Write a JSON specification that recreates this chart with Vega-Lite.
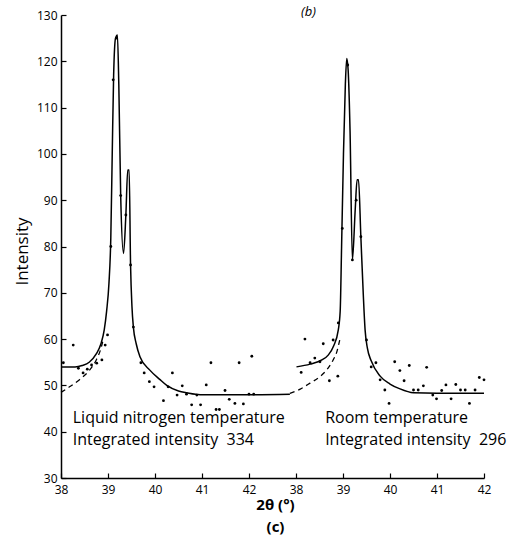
{
  "$schema": "https://vega.github.io/schema/vega-lite/v6.json",
  "width": 423,
  "height": 463,
  "autosize": {"type": "none"},
  "padding": {"left": 61, "top": 15, "right": 44, "bottom": 62},
  "background": "white",
  "title": {"text": "(b)", "dx": 36, "dy": 10, "offset": 0, "fontSize": 13, "fontStyle": "italic", "fontWeight": "normal", "font": "Open Sans", "color": "black"},
  "config": {
    "view": {"stroke": null},
    "axis": {"domainColor": "black", "domainWidth": 1.5, "tickColor": "black", "tickWidth": 1.2, "labelColor": "black", "titleColor": "black", "labelFont": "Open Sans", "titleFont": "Open Sans", "grid": false}
  },
  "datasets": {
    "curves": [
      {"x": 38, "y": 54, "curve": "ln_fit"}, {"x": 38.3, "y": 54, "curve": "ln_fit"}, {"x": 38.45, "y": 54.3, "curve": "ln_fit"}, {"x": 38.6, "y": 55, "curve": "ln_fit"}, {"x": 38.75, "y": 56.8, "curve": "ln_fit"}, {"x": 38.85, "y": 59, "curve": "ln_fit"}, {"x": 38.92, "y": 62, "curve": "ln_fit"}, {"x": 38.97, "y": 66, "curve": "ln_fit"}, {"x": 39.02, "y": 72, "curve": "ln_fit"}, {"x": 39.06, "y": 82, "curve": "ln_fit"}, {"x": 39.09, "y": 100, "curve": "ln_fit"}, {"x": 39.12, "y": 117, "curve": "ln_fit"}, {"x": 39.16, "y": 125, "curve": "ln_fit"}, {"x": 39.2, "y": 125.7, "curve": "ln_fit"}, {"x": 39.23, "y": 115, "curve": "ln_fit"}, {"x": 39.27, "y": 91, "curve": "ln_fit"}, {"x": 39.33, "y": 78.5, "curve": "ln_fit"}, {"x": 39.38, "y": 86.8, "curve": "ln_fit"}, {"x": 39.42, "y": 96.5, "curve": "ln_fit"}, {"x": 39.45, "y": 96.5, "curve": "ln_fit"}, {"x": 39.48, "y": 76, "curve": "ln_fit"}, {"x": 39.51, "y": 67, "curve": "ln_fit"}, {"x": 39.54, "y": 62.6, "curve": "ln_fit"}, {"x": 39.6, "y": 59, "curve": "ln_fit"}, {"x": 39.68, "y": 56.2, "curve": "ln_fit"}, {"x": 39.89, "y": 53.3, "curve": "ln_fit"}, {"x": 40.1, "y": 51.3, "curve": "ln_fit"}, {"x": 40.25, "y": 50, "curve": "ln_fit"}, {"x": 40.5, "y": 48.8, "curve": "ln_fit"}, {"x": 40.68, "y": 48.4, "curve": "ln_fit"}, {"x": 40.96, "y": 48, "curve": "ln_fit"}, {"x": 42, "y": 48, "curve": "ln_fit"}, {"x": 42.87, "y": 48.1, "curve": "ln_fit"},
      {"x": 38, "y": 48.5, "curve": "ln_bg"}, {"x": 38.2, "y": 49.8, "curve": "ln_bg"}, {"x": 38.4, "y": 51.3, "curve": "ln_bg"}, {"x": 38.6, "y": 53.2, "curve": "ln_bg"}, {"x": 38.75, "y": 55.5, "curve": "ln_bg"}, {"x": 38.85, "y": 58, "curve": "ln_bg"}, {"x": 38.9, "y": 60, "curve": "ln_bg"},
      {"x": 43.01, "y": 54, "curve": "rt_fit"}, {"x": 43.3, "y": 54.6, "curve": "rt_fit"}, {"x": 43.55, "y": 55.5, "curve": "rt_fit"}, {"x": 43.69, "y": 56.6, "curve": "rt_fit"}, {"x": 43.8, "y": 58.5, "curve": "rt_fit"}, {"x": 43.9, "y": 62, "curve": "rt_fit"}, {"x": 43.94, "y": 66, "curve": "rt_fit"}, {"x": 43.97, "y": 80, "curve": "rt_fit"}, {"x": 44.01, "y": 100, "curve": "rt_fit"}, {"x": 44.05, "y": 115, "curve": "rt_fit"}, {"x": 44.08, "y": 120.6, "curve": "rt_fit"}, {"x": 44.11, "y": 118, "curve": "rt_fit"}, {"x": 44.15, "y": 105, "curve": "rt_fit"}, {"x": 44.2, "y": 77.1, "curve": "rt_fit"}, {"x": 44.26, "y": 88, "curve": "rt_fit"}, {"x": 44.3, "y": 94.4, "curve": "rt_fit"}, {"x": 44.33, "y": 94.4, "curve": "rt_fit"}, {"x": 44.38, "y": 82.1, "curve": "rt_fit"}, {"x": 44.43, "y": 70, "curve": "rt_fit"}, {"x": 44.47, "y": 62, "curve": "rt_fit"}, {"x": 44.52, "y": 58, "curve": "rt_fit"}, {"x": 44.6, "y": 55.3, "curve": "rt_fit"}, {"x": 44.79, "y": 52, "curve": "rt_fit"}, {"x": 45, "y": 50.3, "curve": "rt_fit"}, {"x": 45.2, "y": 49.3, "curve": "rt_fit"}, {"x": 45.5, "y": 48.4, "curve": "rt_fit"}, {"x": 46, "y": 48.3, "curve": "rt_fit"}, {"x": 47, "y": 48.3, "curve": "rt_fit"},
      {"x": 42.87, "y": 48.3, "curve": "rt_bg"}, {"x": 43.09, "y": 49.2, "curve": "rt_bg"}, {"x": 43.3, "y": 50.5, "curve": "rt_bg"}, {"x": 43.51, "y": 51.9, "curve": "rt_bg"}, {"x": 43.65, "y": 53.3, "curve": "rt_bg"}, {"x": 43.79, "y": 55.5, "curve": "rt_bg"}, {"x": 43.87, "y": 57.3, "curve": "rt_bg"}, {"x": 43.93, "y": 59.8, "curve": "rt_bg"}
    ],
    "points": [
      {"x": 38.05, "y": 54.9}, {"x": 38.26, "y": 58.7}, {"x": 38.37, "y": 53.7}, {"x": 38.47, "y": 52.7}, {"x": 38.56, "y": 53.5}, {"x": 38.65, "y": 54.4}, {"x": 38.76, "y": 54.8}, {"x": 38.87, "y": 55.5}, {"x": 38.94, "y": 58.7}, {"x": 38.99, "y": 60.9},
      {"x": 39.06, "y": 80}, {"x": 39.11, "y": 116}, {"x": 39.18, "y": 125}, {"x": 39.27, "y": 91}, {"x": 39.38, "y": 86.8}, {"x": 39.48, "y": 76}, {"x": 39.54, "y": 62.6},
      {"x": 39.7, "y": 54.9}, {"x": 39.77, "y": 52.7}, {"x": 39.88, "y": 50.8}, {"x": 39.98, "y": 49.7}, {"x": 40.18, "y": 46.7}, {"x": 40.28, "y": 49.7}, {"x": 40.37, "y": 52.7}, {"x": 40.47, "y": 47.9}, {"x": 40.58, "y": 49.9}, {"x": 40.67, "y": 48.1}, {"x": 40.78, "y": 45.8}, {"x": 40.89, "y": 47.9}, {"x": 40.97, "y": 45.8}, {"x": 41.09, "y": 50.1}, {"x": 41.19, "y": 54.9}, {"x": 41.3, "y": 44.8}, {"x": 41.37, "y": 44.8}, {"x": 41.49, "y": 48.9}, {"x": 41.58, "y": 47}, {"x": 41.7, "y": 46.1}, {"x": 41.79, "y": 54.9}, {"x": 41.88, "y": 46}, {"x": 42, "y": 48.1}, {"x": 42.06, "y": 56.3}, {"x": 42.1, "y": 48.1},
      {"x": 43.11, "y": 52.8}, {"x": 43.19, "y": 60}, {"x": 43.3, "y": 54.9}, {"x": 43.4, "y": 55.9}, {"x": 43.51, "y": 55.1}, {"x": 43.58, "y": 59}, {"x": 43.71, "y": 51}, {"x": 43.79, "y": 59.8}, {"x": 43.89, "y": 52}, {"x": 43.9, "y": 63.5},
      {"x": 43.985, "y": 83.9}, {"x": 44.1, "y": 119.2}, {"x": 44.2, "y": 77.1}, {"x": 44.28, "y": 90}, {"x": 44.38, "y": 82.1}, {"x": 44.5, "y": 59.8},
      {"x": 44.6, "y": 54}, {"x": 44.7, "y": 54.9}, {"x": 44.79, "y": 51.2}, {"x": 44.89, "y": 49}, {"x": 44.98, "y": 46.1}, {"x": 45.1, "y": 55.1}, {"x": 45.21, "y": 53.2}, {"x": 45.3, "y": 51}, {"x": 45.41, "y": 54.3}, {"x": 45.5, "y": 49}, {"x": 45.6, "y": 49}, {"x": 45.71, "y": 49.9}, {"x": 45.78, "y": 53.9}, {"x": 45.91, "y": 47.9}, {"x": 45.99, "y": 47.1}, {"x": 46.1, "y": 48.9}, {"x": 46.19, "y": 50.1}, {"x": 46.3, "y": 47.1}, {"x": 46.4, "y": 50.2}, {"x": 46.5, "y": 49}, {"x": 46.6, "y": 49}, {"x": 46.69, "y": 46.1}, {"x": 46.81, "y": 49}, {"x": 46.9, "y": 51.7}, {"x": 47, "y": 51.2}
    ],
    "labels": [
      {"x": 38.25, "y": 43.0, "label": "Liquid nitrogen temperature"},
      {"x": 38.25, "y": 38.3, "label": "Integrated intensity\u00a0\u00a0334"},
      {"x": 43.62, "y": 43.0, "label": "Room temperature"},
      {"x": 43.62, "y": 38.3, "label": "Integrated intensity\u00a0\u00a0296"}
    ]
  },
  "encoding": {
    "x": {"field": "x", "type": "quantitative", "scale": {"domain": [38, 47], "nice": false, "zero": false},
      "axis": {"values": [38, 39, 40, 41, 42, 43, 44, 45, 46, 47], "labelExpr": "datum.value > 42 ? datum.value - 5 : datum.value", "tickSize": -5, "labelPadding": 11, "labelFontSize": 12, "labelFlush": false,
        "title": ["2θ (°)", "(c)"], "titleFontSize": 15, "titleFontWeight": "bold", "titleLineHeight": 22, "titleX": 214, "titleY": 19, "titleBaseline": "top", "titleAngle": 0}},
    "y": {"field": "y", "type": "quantitative", "scale": {"domain": [30, 130], "nice": false, "zero": false},
      "axis": {"values": [30, 40, 50, 60, 70, 80, 90, 100, 110, 120, 130], "tickSize": -5, "labelPadding": 9, "labelFontSize": 12, "labelFlush": false,
        "title": "Intensity", "titleFontSize": 17, "titleFontWeight": "normal", "titleX": -39, "titleY": 236, "titleAngle": -90, "titleBaseline": "middle"}}
  },
  "layer": [
    {"data": {"name": "curves"}, "transform": [{"filter": "datum.curve == 'ln_fit' || datum.curve == 'rt_fit'"}],
      "mark": {"type": "line", "color": "black", "strokeWidth": 1.5, "interpolate": "monotone"},
      "encoding": {"detail": {"field": "curve"}}},
    {"data": {"name": "curves"}, "transform": [{"filter": "datum.curve == 'ln_bg' || datum.curve == 'rt_bg'"}],
      "mark": {"type": "line", "color": "black", "strokeWidth": 1.3, "strokeDash": [5, 4], "interpolate": "monotone"},
      "encoding": {"detail": {"field": "curve"}}},
    {"data": {"name": "points"},
      "mark": {"type": "circle", "color": "black", "size": 8, "opacity": 1}},
    {"data": {"name": "labels"},
      "mark": {"type": "text", "align": "left", "baseline": "middle", "font": "Open Sans", "fontSize": 16, "color": "black"},
      "encoding": {"text": {"field": "label"}}}
  ]
}
